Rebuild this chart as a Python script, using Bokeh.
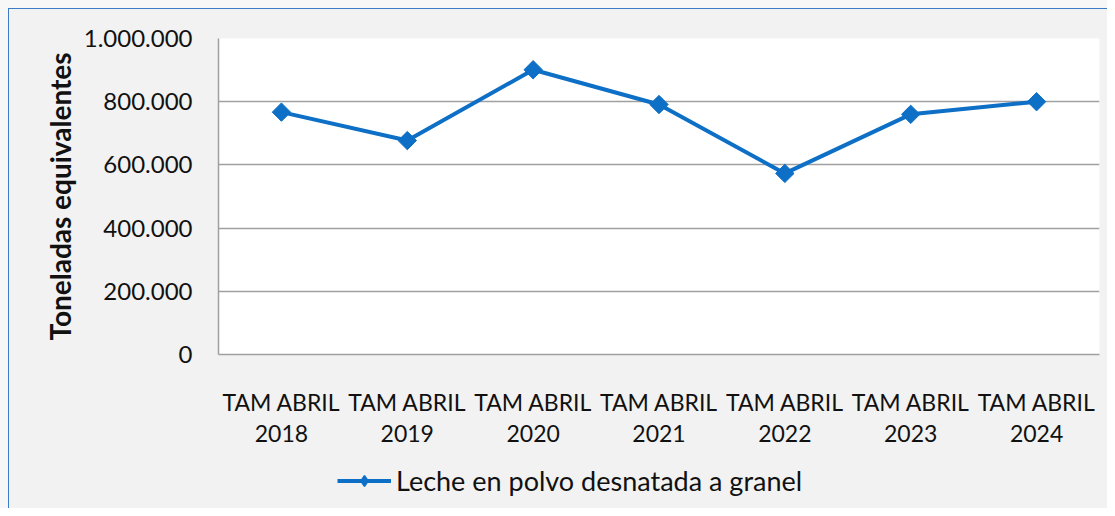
import math
from bokeh.plotting import figure
from bokeh.layouts import column
from bokeh.models import (FactorRange, Range1d, FixedTicker, CustomJSTickFormatter, Legend, LegendItem,
                          CategoricalAxis)
from bokeh.embed import file_html
from bokeh.resources import INLINE

years = ["2018", "2019", "2020", "2021", "2022", "2023", "2024"]
period_label = "TAM ABRIL"
values = [767000, 677000, 901000, 791000, 573000, 760000, 800000]
y_ticks = [0, 200000, 400000, 600000, 800000, 1000000]
series_name = "Leche en polvo desnatada a granel"

FONT = "Lato"
BLUE = "#0D6FC5"
GRID = "#A0A0A0"
BG = "#F2F2F2"
EDGE = "#3A7CC8"

p = figure(frame_width=881, frame_height=316, x_range=FactorRange(*years), y_range=Range1d(0, 1000000),
           output_backend="svg", toolbar_location=None,
           min_border_left=218, min_border_top=38, min_border_right=8, min_border_bottom=106)
p.background_fill_color = "white"
p.border_fill_alpha = 0
p.outline_line_color = None

p.x_range.range_padding = 0
p.xgrid.grid_line_color = None
p.ygrid.grid_line_color = GRID
p.ygrid.grid_line_width = 1.5
p.yaxis.ticker = FixedTicker(ticks=y_ticks)
p.yaxis.formatter = CustomJSTickFormatter(code="return Math.round(tick).toString().replace(/\\B(?=(\\d{3})+(?!\\d))/g, '.');")

for ax in (p.xaxis, p.yaxis):
    ax.axis_line_color = GRID
    ax.axis_line_width = 1.5
    ax.major_tick_line_color = None
    ax.minor_tick_line_color = None
    ax.major_label_text_font = FONT
    ax.major_label_text_color = "#111111"

p.yaxis.major_label_text_font_size = "24px"
p.yaxis.major_label_standoff = 20

# first line of the category labels
p.xaxis.major_label_text_font_size = "23px"
p.xaxis.major_label_standoff = 27
p.xaxis.formatter = CustomJSTickFormatter(args={"label": period_label}, code="return label;")

# second line of the category labels (years)
year_axis = CategoricalAxis(axis_line_color=None, major_tick_line_color=None, minor_tick_line_color=None,
                            major_label_text_font=FONT, major_label_text_font_size="23px",
                            major_label_text_color="#111111", major_label_standoff=0)
p.add_layout(year_axis, "below")

p.yaxis.axis_label = "Toneladas equivalentes"
p.yaxis.axis_label_text_font = FONT
p.yaxis.axis_label_text_font_style = "bold"
p.yaxis.axis_label_text_font_size = "28px"
p.yaxis.axis_label_text_color = "#111111"
p.yaxis.axis_label_standoff = 4

p.line(x=years, y=values, line_color=BLUE, line_width=4)
p.scatter(x=years, y=values, marker="square", angle=math.pi / 4, size=13,
          fill_color=BLUE, line_color=BLUE)

# legend strip below the chart
p2 = figure(width=1107, height=48, x_range=FactorRange(*years), y_range=Range1d(-2, -1),
            output_backend="svg", toolbar_location=None, x_axis_type=None, y_axis_type=None,
            min_border=0)
p2.background_fill_alpha = 0
p2.border_fill_alpha = 0
p2.outline_line_color = None
p2.xgrid.grid_line_color = None
p2.ygrid.grid_line_color = None
l_line = p2.line(x=years, y=values, line_color=BLUE, line_width=4)
l_mark = p2.scatter(x=years, y=values, marker="diamond", size=23,
                    fill_color=BLUE, line_color=BLUE, line_width=1.5)

legend = Legend(items=[LegendItem(label=series_name, renderers=[l_line, l_mark])],
                location=(119, 11), orientation="horizontal")
legend.label_text_font = FONT
legend.label_text_font_size = "27px"
legend.label_text_color = "#111111"
legend.glyph_width = 54
legend.glyph_height = 27
legend.label_standoff = 5
legend.background_fill_alpha = 0
legend.border_line_color = None
legend.margin = 0
legend.padding = 0
p2.add_layout(legend, "center")

bg = (f"linear-gradient({EDGE},{EDGE}) 8px 8px / 1px 100% no-repeat, "
      f"linear-gradient({EDGE},{EDGE}) 8px 8px / 100% 1px no-repeat, "
      f"linear-gradient({BG},{BG}) 9px 9px / 100% 100% no-repeat, #F7F7F7")
layout = column(p, p2, spacing=0, styles={"background": bg})

open("out.html", "w").write(file_html(layout, INLINE))
